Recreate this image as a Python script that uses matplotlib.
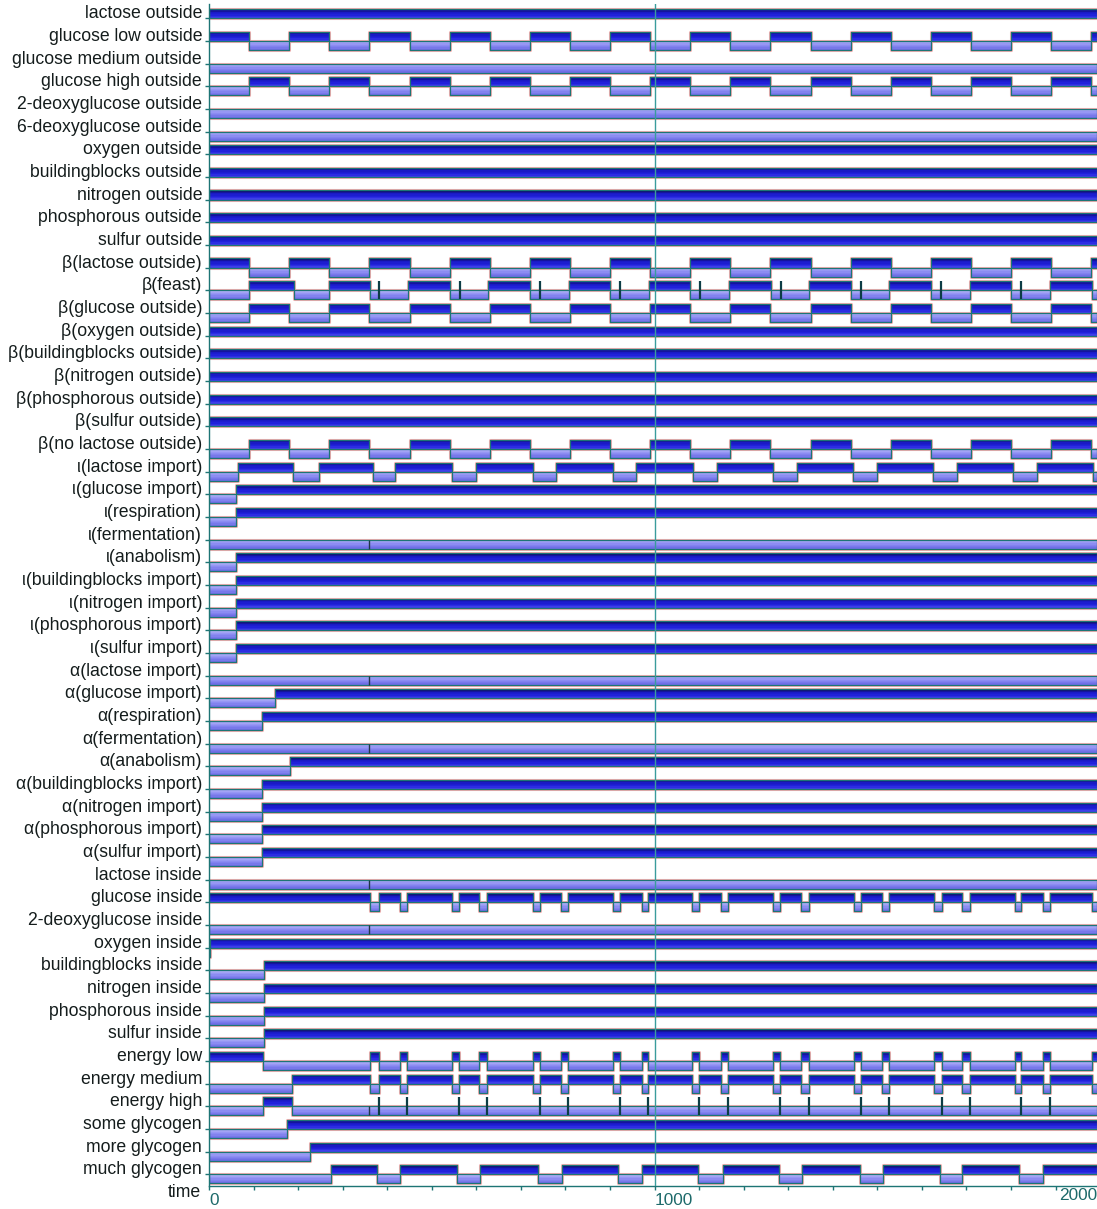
"""Timing diagram of the boolean regulatory network signals over time."""

from __future__ import annotations

import matplotlib

matplotlib.use("Agg")
import matplotlib.pyplot as plt
import numpy as np
from matplotlib.colors import LinearSegmentedColormap

T_END = 1993.0

# toggle times (state flips)
ALT_90 = [90, 180, 270, 360, 450, 540, 630, 720, 810, 900, 990, 1080,
          1170, 1260, 1350, 1440, 1530, 1620, 1710, 1800, 1890, 1980]
FEAST_TOGGLES = [90, 190, 270, 361, 447, 541, 627, 721, 807, 901, 987, 1080,
                 1166, 1261, 1347, 1441, 1527, 1621, 1707, 1801, 1887, 1981]
FEAST_SPIKES = [382, 563, 743, 922, 1102, 1284, 1464, 1643, 1823]
IOTA_LACTOSE_TOGGLES = [66, 188, 247, 367, 417, 546, 599, 727, 779, 907, 959,
                        1086, 1140, 1265, 1319, 1445, 1499, 1624, 1678, 1804,
                        1858, 1984]
ENERGY_BUMPS = [361, 382, 428, 445, 545, 562, 606, 625, 728, 744, 789, 806,
                906, 922, 971, 986, 1085, 1100, 1149, 1164, 1266, 1282,
                1329, 1347, 1448, 1464, 1510, 1526, 1628, 1645, 1690, 1707,
                1808, 1822, 1872, 1888, 1982]
ENERGY_HIGH_SPIKES = [382, 445, 562, 625, 744, 806, 922, 986, 1100, 1164,
                      1282, 1347, 1464, 1526, 1645, 1707, 1822, 1888]
MUCH_GLYCOGEN_TOGGLES = [273, 376, 428, 557, 608, 738, 792, 918, 972, 1098,
                         1153, 1280, 1331, 1460, 1512, 1641, 1691, 1819, 1872]
GLITCH_TIME = 360

# (label, starts high, toggles, spikes, glitch tick)
ROWS = [
    ("lactose outside", True, [], [], False),
    ("glucose low outside", True, ALT_90, [], False),
    ("glucose medium outside", False, [], [], False),
    ("glucose high outside", False, ALT_90, [], False),
    ("2-deoxyglucose outside", False, [], [], False),
    ("6-deoxyglucose outside", False, [], [], False),
    ("oxygen outside", True, [], [], False),
    ("buildingblocks outside", True, [], [], False),
    ("nitrogen outside", True, [], [], False),
    ("phosphorous outside", True, [], [], False),
    ("sulfur outside", True, [], [], False),
    ("β(lactose outside)", True, ALT_90, [], False),
    ("β(feast)", False, FEAST_TOGGLES, FEAST_SPIKES, False),
    ("β(glucose outside)", False, ALT_90, [], False),
    ("β(oxygen outside)", True, [], [], False),
    ("β(buildingblocks outside)", True, [], [], False),
    ("β(nitrogen outside)", True, [], [], False),
    ("β(phosphorous outside)", True, [], [], False),
    ("β(sulfur outside)", True, [], [], False),
    ("β(no lactose outside)", False, ALT_90, [], False),
    ("ι(lactose import)", False, IOTA_LACTOSE_TOGGLES, [], False),
    ("ι(glucose import)", False, [60], [], False),
    ("ι(respiration)", False, [60], [], False),
    ("ι(fermentation)", False, [], [], True),
    ("ι(anabolism)", False, [60], [], False),
    ("ι(buildingblocks import)", False, [60], [], False),
    ("ι(nitrogen import)", False, [60], [], False),
    ("ι(phosphorous import)", False, [60], [], False),
    ("ι(sulfur import)", False, [60], [], False),
    ("α(lactose import)", False, [], [], True),
    ("α(glucose import)", False, [148], [], False),
    ("α(respiration)", False, [118], [], False),
    ("α(fermentation)", False, [], [], True),
    ("α(anabolism)", False, [182], [], False),
    ("α(buildingblocks import)", False, [119], [], False),
    ("α(nitrogen import)", False, [119], [], False),
    ("α(phosphorous import)", False, [119], [], False),
    ("α(sulfur import)", False, [119], [], False),
    ("lactose inside", False, [], [], True),
    ("glucose inside", True, ENERGY_BUMPS, [], False),
    ("2-deoxyglucose inside", False, [], [], True),
    ("oxygen inside", False, [3], [], False),
    ("buildingblocks inside", False, [123], [], False),
    ("nitrogen inside", False, [123], [], False),
    ("phosphorous inside", False, [123], [], False),
    ("sulfur inside", False, [123], [], False),
    ("energy low", True, [121] + ENERGY_BUMPS, [], False),
    ("energy medium", False, [187] + ENERGY_BUMPS, [], False),
    ("energy high", False, [121, 187], ENERGY_HIGH_SPIKES, True),
    ("some glycogen", False, [174], [], False),
    ("more glycogen", False, [226], [], False),
    ("much glycogen", False, MUCH_GLYCOGEN_TOGGLES, [], False),
]

BAR_H = 0.40
N_STRIPS = 7
TEAL = "#1d7575"
FRINGE = "#f5b0b0"
FONT = "Liberation Sans"
HI_CMAP = LinearSegmentedColormap.from_list(
    "hi", [(0.0, "#0c0c60"), (0.35, "#1a1ac4"), (0.7, "#2222de"), (1.0, "#4646ec")])
LO_CMAP = LinearSegmentedColormap.from_list(
    "lo", [(0.0, "#b4b4f8"), (0.5, "#8c8cf2"), (1.0, "#6a6ae4")])


def _segments(start_high: bool, toggles: list[float]) -> tuple[list, list]:
    edges = [0.0] + [float(t) for t in toggles] + [T_END]
    level = start_high
    hi, lo = [], []
    for a, b in zip(edges[:-1], edges[1:]):
        (hi if level else lo).append((a, b - a))
        level = not level
    return hi, lo


def _draw_blocks(ax, xranges, y0: float, cmap) -> None:
    if not xranges:
        return
    ax.broken_barh(xranges, (y0, BAR_H), facecolors="none", edgecolors=FRINGE,
                   linewidth=2.2, zorder=1)
    dy = BAR_H / N_STRIPS
    for k in range(N_STRIPS):
        color = cmap((k + 0.5) / N_STRIPS)
        ax.broken_barh(xranges, (y0 + k * dy, dy * 1.02), facecolors=color,
                       edgecolors="none", zorder=2)
    ax.broken_barh(xranges, (y0, BAR_H), facecolors="none", edgecolors=TEAL,
                   linewidth=0.9, zorder=3)


fig = plt.figure(figsize=(10.97, 12.09), dpi=100)
ax = fig.add_axes([209 / 1097, 1 - 1185.7 / 1209, 1 - 209 / 1097, (1185.7 - 4) / 1209])

for i, (name, start_high, toggles, spikes, glitch) in enumerate(ROWS):
    hi, lo = _segments(start_high, toggles)
    # high state sits above the baseline, low state below it (y axis inverted)
    _draw_blocks(ax, hi, i - BAR_H, HI_CMAP)
    _draw_blocks(ax, lo, i, LO_CMAP)
    if spikes:
        ax.vlines(spikes, i - BAR_H, i + BAR_H, color="#0d3d45", linewidth=1.6, zorder=4)
    if glitch:
        ax.vlines([GLITCH_TIME], i, i + BAR_H, color="#203848", linewidth=1.0, zorder=4)

ax.axvline(1000, color="#3a9c9c", linewidth=1.0, zorder=5)

ax.set_xlim(0, T_END)
ax.set_ylim(len(ROWS) - 0.5, -0.626)

ax.set_yticks(np.arange(len(ROWS)))
ax.set_yticklabels([r[0] for r in ROWS], fontsize=12.7, family=FONT,
                   color="#141c1c")
for lbl in ax.get_yticklabels():
    lbl.set_verticalalignment("baseline")
ax.tick_params(axis="y", length=3, width=1, color=TEAL, pad=2)

ax.set_xticks(np.arange(0, 2000, 100))
ax.set_xticklabels(["0" if t == 0 else "1000" if t == 1000 else "" for t in range(0, 2000, 100)],
                   fontsize=12.4, family=FONT, color="#1d6a6a")
for lbl in ax.get_xticklabels():
    lbl.set_horizontalalignment("left")
ax.tick_params(axis="x", length=3, width=1, color=TEAL, pad=2)
ax.text(T_END, len(ROWS) - 0.5 + 0.12, "2000", ha="right", va="top", fontsize=12.4,
        family=FONT, color="#1d6a6a", clip_on=False)
ax.text(-18, len(ROWS) - 0.22, "time", ha="right", va="center", fontsize=12.7,
        family=FONT, color="#141c1c", clip_on=False)

for side in ("top", "right"):
    ax.spines[side].set_visible(False)
for side in ("left", "bottom"):
    ax.spines[side].set_color(TEAL)
    ax.spines[side].set_linewidth(1.0)

fig.savefig("out.png", dpi=100)
